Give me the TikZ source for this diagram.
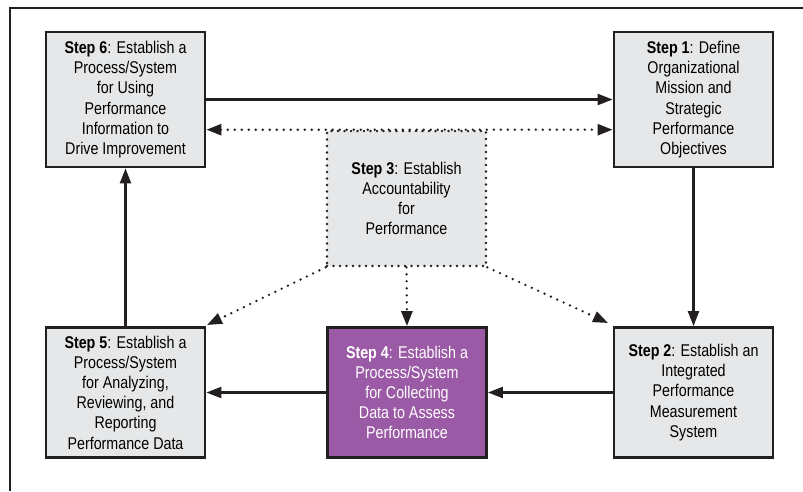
\documentclass[tikz,border=0pt]{standalone}
\usepackage{fontspec}
\setmainfont{Liberation Sans}[FakeStretch=0.84]
\usetikzlibrary{arrows.meta}
\definecolor{boxgray}{RGB}{230,231,232}
\definecolor{boxline}{RGB}{35,31,32}
\definecolor{stepviolet}{RGB}{155,90,165}
\begin{document}
\begin{tikzpicture}[x=1pt,y=-1pt,
  stepbox/.style={draw=boxline, fill=boxgray, line width=2.8pt, minimum width=159pt,
    minimum height=135pt, inner sep=0pt, align=center,
    font=\fontsize{17}{20.2}\selectfont, text=black},
  lowbox/.style={stepbox, minimum height=130pt},
  violetbox/.style={lowbox, fill=stepviolet, text=white},
  dotbox/.style={stepbox, dash pattern=on 0pt off 6.5pt, line cap=round, line width=2.6pt},
  solidarrow/.style={draw=boxline, line width=2.2pt, -{Triangle[length=15pt,width=11pt]}},
  dotline/.style={draw=boxline, line width=2.6pt, line cap=round, dash pattern=on 0pt off 7pt},
  dotarrow/.style={dotline, -{Triangle[length=15pt,width=11pt]}},
  dotboth/.style={dotline, {Triangle[length=15pt,width=11pt]}-{Triangle[length=15pt,width=11pt]}},
  framestyle/.style={draw=boxline, line width=1.6pt}
]
\useasboundingbox (0,0) rectangle (803,491);
\fill[white] (0,0) rectangle (803,491);
\coordinate (fa) at (10,491);
\coordinate (fb) at (10,8);
\coordinate (fc) at (803,8);
\draw[framestyle] (fa) -- (fb) -- (fc);

\node[stepbox] (s6) at (125.5,99.5) {\textbf{Step 6}: Establish a\\Process/System\\for Using\\Performance\\Information to\\Drive Improvement};
\node[stepbox] (s1) at (693.5,99.5) {\textbf{Step 1}: Define\\Organizational\\Mission and\\Strategic\\Performance\\Objectives};
\node[dotbox] (s3) at (406.5,198.5) {\textbf{Step 3}: Establish\\Accountability\\for\\Performance};
\node[lowbox] (s5) at (125.5,392.5) {\textbf{Step 5}: Establish a\\Process/System\\for Analyzing,\\Reviewing, and\\Reporting\\Performance Data};
\node[violetbox] (s4) at (407,392.5) {\textbf{Step 4}: Establish a\\Process/System\\for Collecting\\Data to Assess\\Performance};
\node[lowbox] (s2) at (693.5,392.5) {\textbf{Step 2}: Establish an\\Integrated\\Performance\\Measurement\\System};

\coordinate (c5) at (207,325);
\coordinate (c2) at (608,323);

\draw[solidarrow] (s6.east) -- (s1.west);
\draw[dotboth] (s6.east |- s3.north) -- (s1.west |- s3.north);
\draw[solidarrow] (s1.south) -- (s2.north);
\draw[solidarrow] (s2.west) -- (s4.east);
\draw[solidarrow] (s4.west) -- (s5.east);
\draw[solidarrow] (s5.north) -- (s6.south);
\draw[dotarrow] (s3.south) -- (s4.north);
\draw[dotarrow] (s3.south west) -- (c5);
\draw[dotarrow] (s3.south east) -- (c2);
\end{tikzpicture}
\end{document}
